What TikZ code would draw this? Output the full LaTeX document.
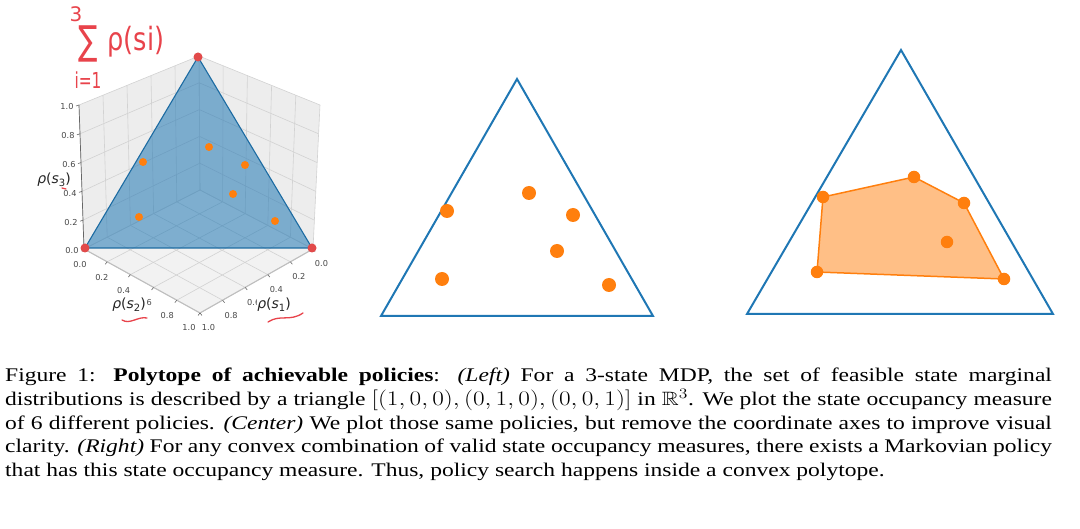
\documentclass[tikz,border=0pt]{standalone}
\usepackage[no-math]{fontspec}
\usepackage{amssymb}
\setmainfont{Liberation Serif}
\newfontfamily\dejavu{DejaVu Sans}
\usetikzlibrary{calc}
\definecolor{tabblue}{HTML}{1F77B4}
\definecolor{taborange}{HTML}{FF7F0E}
\definecolor{panec}{HTML}{EDEDED}
\definecolor{floorc}{HTML}{F2F2F2}
\definecolor{gridc}{HTML}{D2D2D2}
\definecolor{inkred}{HTML}{E8434B}
\definecolor{vred}{HTML}{E24A4A}
\newcommand{\rhos}[1]{{\itshape ρ}({\itshape s}\raisebox{-3pt}{\fontsize{10}{10}\selectfont #1})}
\begin{document}
\begin{tikzpicture}[x=1pt,y=-1pt,
  ticklab/.style={font=\dejavu\fontsize{8.2}{9}\selectfont, text=black!72, inner sep=0},
  axlab/.style={font=\dejavu\fontsize{14}{14}\selectfont, text=black!85, inner sep=0.6pt, fill=white},
  gridline/.style={draw=gridc, line width=0.6},
  frontedge/.style={draw=black!25, line width=1.1},
  dotO/.style={circle, fill=taborange, inner sep=0, minimum size=#1},
  dotR/.style={circle, fill=vred, inner sep=0, minimum size=#1},
  hand/.style={text=inkred, inner sep=0, font=\dejavu},
  inkline/.style={draw=inkred, line width=1.3, line cap=round},
  tribox/.style={draw=tabblue, line width=2, line join=miter}]
\useasboundingbox (0,0) rectangle (1080,529);

% ---------------- left 3D plot ----------------
\coordinate (B0) at (200,190);
\coordinate (L0) at (84,249);
\coordinate (R0) at (313,249);
\coordinate (F0) at (200,313);
\coordinate (B1) at (199,56);
\coordinate (L1) at (79,105);
\coordinate (R1) at (320,105);

\fill[panec] (B0)--(L0)--(L1)--(B1)--cycle;
\fill[panec] (B0)--(R0)--(R1)--(B1)--cycle;
\fill[floorc] (B0)--(L0)--(F0)--(R0)--cycle;

\foreach \t in {0,0.2,0.4,0.6,0.8,1}{
  \draw[gridline] ($(B0)!\t!(L0)$) -- ($(B1)!\t!(L1)$);
  \draw[gridline] ($(B0)!\t!(B1)$) -- ($(L0)!\t!(L1)$);
  \draw[gridline] ($(B0)!\t!(R0)$) -- ($(B1)!\t!(R1)$);
  \draw[gridline] ($(B0)!\t!(B1)$) -- ($(R0)!\t!(R1)$);
  \draw[gridline] ($(B0)!\t!(L0)$) -- ($(R0)!\t!(F0)$);
  \draw[gridline] ($(B0)!\t!(R0)$) -- ($(L0)!\t!(F0)$);
}
\draw[frontedge] (L0) -- (F0) -- (R0);
\draw[draw=black!60, line width=0.7] (L0) -- (L1);

% ticks and tick labels
\foreach \t/\l [count=\i] in {0/0.0,0.2/0.2,0.4/0.4,0.6/0.6,0.8/0.8,1/1.0}{
  \pgfmathsetmacro{\ox}{-4-7*\t}
  \pgfmathsetmacro{\oy}{16-\t}
  \draw[black!60, line width=0.6] ($(L0)!\t!(L1)$) -- ++(-3,1);
  \node[ticklab] (zt\i) at ($(L0)!\t!(L1)+(-12,2)$) {\l};
  \draw[black!60, line width=0.6] ($(L0)!\t!(F0)$) -- ++(-2,2.5);
  \node[ticklab] (yt\i) at ($(L0)!\t!(F0)+(\ox,\oy)$) {\l};
  \draw[black!60, line width=0.6] ($(R0)!\t!(F0)$) -- ++(2,2.5);
  \node[ticklab] (xt\i) at ($(R0)!\t!(F0)+(8.5,15)$) {\l};
}

% axis labels
\node[axlab] (lab3) at (54,180) {\rhos{3}};
\node[axlab] (lab2) at (129,305) {\rhos{2}};
\node[axlab] (lab1) at (274,305) {\rhos{1}};

% simplex triangle
\coordinate (TA) at (198,57);
\coordinate (TL) at (85,248);
\coordinate (TR) at (312,248);
\draw[draw=tabblue!90!black, line width=1.1, fill=tabblue, fill opacity=0.55, line join=round] (TA) -- (TL) -- (TR) -- cycle;

\node[dotR=9pt] (vA) at (TA) {};
\node[dotR=9pt] (vL) at (TL) {};
\node[dotR=9pt] (vR) at (TR) {};

\foreach \p [count=\i] in {(143,162),(139,217),(209,147),(245,165),(233,194),(275,221)}
  \node[dotO=8pt] (ld\i) at \p {};

% handwritten annotations
\node[hand, font=\dejavu\fontsize{20}{20}\selectfont] (h3) at (76,14) {3};
\node[hand, font=\dejavu\fontsize{40}{40}\selectfont] (hsum) at (88,44) {\scalebox{0.72}[1]{∑}};
\node[hand, font=\dejavu\fontsize{32}{32}\selectfont] (hrho) at (136,42) {\scalebox{0.8}[1]{ρ(si)}};
\node[hand, font=\dejavu\fontsize{22}{22}\selectfont] (hsub) at (88,80) {\scalebox{0.7}[1]{i=1}};
\coordinate (u1a) at (122,320); \coordinate (u1b) at (147,318);
\coordinate (u2a) at (268,322); \coordinate (u2b) at (303,313);
\coordinate (u3a) at (62,188); \coordinate (u3b) at (66,189);
\draw[inkline] (u1a) .. controls (130,325) and (138,316) .. (u1b);
\draw[inkline] (u2a) .. controls (280,314) and (290,322) .. (u2b);
\draw[inkline] (u3a) -- (u3b);

% ---------------- center plot ----------------
\coordinate (cA) at (517,79);
\coordinate (cL) at (381,316);
\coordinate (cR) at (653,316);
\draw[tribox] (cA) -- (cL) -- (cR) -- cycle;
\foreach \p [count=\i] in {(447,211),(529,193),(573,215),(557,251),(442,279),(609,285)}
  \node[dotO=14pt] (cd\i) at \p {};

% ---------------- right plot ----------------
\coordinate (rA) at (901,50);
\coordinate (rL) at (747,314);
\coordinate (rR) at (1053,314);
\draw[tribox] (rA) -- (rL) -- (rR) -- cycle;
\coordinate (p1) at (823,197);
\coordinate (p2) at (914,177);
\coordinate (p3) at (964,203);
\coordinate (p4) at (1004,279);
\coordinate (p5) at (817,272);
\coordinate (p6) at (947,242);
\draw[draw=taborange, line width=1.5, fill=taborange, fill opacity=0.5, line join=round] (p1) -- (p2) -- (p3) -- (p4) -- (p5) -- cycle;
\foreach \i in {1,...,6}
  \node[dotO=12.5pt] (rd\i) at (p\i) {};

% ---------------- caption ----------------
\node[anchor=base west, inner sep=0] (caption) at (5,382) {\scalebox{1.22}[1]{\parbox[t]{858pt}{\fontsize{19.3}{23.6}\selectfont
Figure 1: \textbf{Polytope of achievable policies}: \textit{(Left)}\ For a 3-state MDP, the set of feasible state marginal\linebreak
distributions is described by a triangle $[(1,0,0),(0,1,0),(0,0,1)]$ in $\mathbb{R}^3$. We plot the state occupancy measure\linebreak
of 6 different policies. \textit{(Center)}\ We plot those same policies, but remove the coordinate axes to improve visual\linebreak
clarity. \textit{(Right)}\ For any convex combination of valid state occupancy measures, there exists a Markovian policy\linebreak
that has this state occupancy measure. Thus, policy search happens inside a convex polytope.}}};
\end{tikzpicture}
\end{document}
